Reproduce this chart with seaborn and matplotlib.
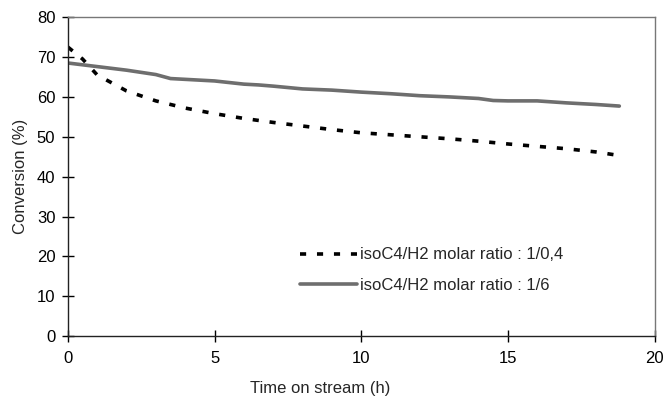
import matplotlib
matplotlib.use("Agg")
import matplotlib.pyplot as plt
import pandas as pd
import seaborn as sns

# isoC4/H2 molar ratio 1/0,4 (dashed)
time_a = [0, 0.5, 1, 2, 3, 4, 5, 6, 7, 8, 9, 10, 11, 12, 13, 14, 15, 16, 17, 18, 18.8]
conv_a = [72.5, 69.5, 65.5, 61.5, 59, 57.2, 55.8, 54.6, 53.6, 52.7, 51.8, 51, 50.5, 50, 49.5, 48.9, 48.2, 47.6, 47, 46.2, 45.3]

# isoC4/H2 molar ratio 1/6 (solid)
time_b = [0, 1, 2, 3, 3.5, 5, 6, 6.5, 7, 8, 9, 10, 11, 12, 13, 14, 14.5, 15, 16, 17, 18, 18.8]
conv_b = [68.5, 67.6, 66.7, 65.6, 64.6, 64, 63.2, 63, 62.7, 62, 61.7, 61.2, 60.8, 60.3, 60, 59.6, 59.1, 59, 59, 58.5, 58.1, 57.7]

labels = ["isoC4/H2 molar ratio : 1/0,4", "isoC4/H2 molar ratio : 1/6"]

df = pd.concat([
    pd.DataFrame({"time": time_a, "conv": conv_a, "series": labels[0]}),
    pd.DataFrame({"time": time_b, "conv": conv_b, "series": labels[1]}),
])

sns.set_style("white")
plt.rcParams["font.family"] = ["Liberation Sans", "DejaVu Sans"]

fig = plt.figure(figsize=(6.72, 4.08), dpi=100)
ax = fig.add_axes([0.101, 0.176, 0.873, 0.782])

sns.lineplot(
    data=df, x="time", y="conv", hue="series", style="series",
    palette={labels[0]: "black", labels[1]: "#6e6e6e"},
    dashes={labels[0]: (1.7, 3.0), labels[1]: ""},
    sort=False, ax=ax,
)
for line in ax.get_lines():
    line.set_linewidth(2.6)

ax.set_xlim(0, 20)
ax.set_ylim(0, 80)
ax.set_xticks(range(0, 21, 5))
ax.set_yticks(range(0, 81, 10))
ax.tick_params(axis="both", direction="inout", length=8, width=1, labelsize=12,
               colors="black", left=True, bottom=True, pad=5)
ax.tick_params(axis="x", pad=7)
for sp in ax.spines.values():
    sp.set_color("#222222")
    sp.set_linewidth(1)
ax.spines["right"].set_color("#777777")
ax.spines["top"].set_color("#777777")
ax.set_xlabel("Time on stream (h)", fontsize=12)
ax.set_ylabel("Conversion (%)", fontsize=12, labelpad=6)
ax.xaxis.set_label_coords(0.43, -0.14)

leg = ax.legend(loc="upper left", bbox_to_anchor=(0.37, 0.325), frameon=False,
                fontsize=12, handlelength=3.4, handletextpad=0.2, labelspacing=0.95)
for h in leg.get_lines():
    h.set_linewidth(2.6)

fig.savefig("out.png", dpi=100)
